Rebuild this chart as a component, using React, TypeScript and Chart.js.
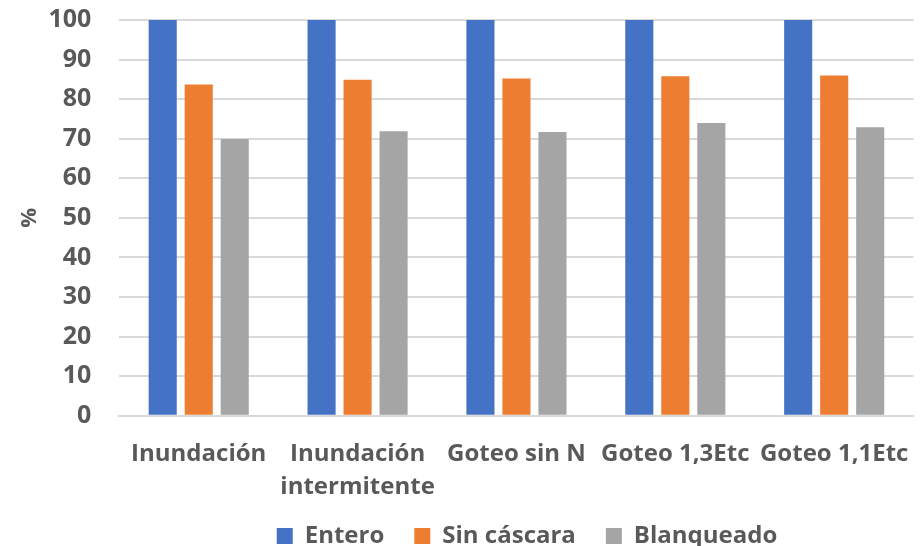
import React, { useEffect, useRef } from "react";
import { Chart, registerables } from "chart.js";

Chart.register(...registerables);

const categories: (string | string[])[] = [
  "Inundación",
  ["Inundación", "intermitente"],
  "Goteo sin N",
  "Goteo 1,3Etc",
  "Goteo 1,1Etc",
];
const entero = [100, 100, 100, 100, 100];
const sinCascara = [83.7, 84.9, 85.2, 85.8, 86.0];
const blanqueado = [69.9, 71.9, 71.7, 74.0, 72.9];
const yTicks = { min: 0, max: 100, step: 10 };

const FONT = "'Open Sans', 'DejaVu Sans', sans-serif";
const TEXT = "#595959";

const legendTune = {
  id: "legendTune",
  beforeLayout(chart: any) {
    const lg = chart.legend;
    if (lg && !lg.__patched) {
      const orig = lg.fit.bind(lg);
      lg.fit = () => {
        orig();
        lg.height = 28;
      };
      lg.__patched = true;
    }
  },
  afterLayout(chart: any) {
    const lg = chart.legend;
    if (lg) {
      lg.left += 62;
      lg.right += 62;
      lg.top = chart.height - 52;
      lg.bottom = chart.height;
      lg.height = 52;
    }
  },
};

export default function App() {
  const ref = useRef<HTMLCanvasElement | null>(null);
  useEffect(() => {
    document.body.style.margin = "0";
    if (!ref.current) return;
    const chart = new Chart(ref.current, {
      type: "bar",
      data: {
        labels: categories,
        datasets: [
          { label: "Entero", data: entero, backgroundColor: "#4472C4" },
          { label: "Sin cáscara", data: sinCascara, backgroundColor: "#ED7D31" },
          { label: "Blanqueado", data: blanqueado, backgroundColor: "#A5A5A5" },
        ],
      },
      plugins: [legendTune],
      options: {
        responsive: false,
        animation: false,
        maintainAspectRatio: false,
        datasets: { bar: { categoryPercentage: 0.68, barPercentage: 0.78 } },
        layout: { padding: { top: 0, right: 6, left: 13, bottom: 0 } },
        plugins: {
          tooltip: { enabled: false },
          legend: {
            position: "bottom",
            labels: {
              boxWidth: 16,
              boxHeight: 16,
              padding: 30,
              color: TEXT,
              font: { family: FONT, size: 24, weight: "bold" },
            },
          },
        },
        scales: {
          x: {
            grid: { display: false },
            border: { color: "#D9D9D9", width: 2 },
            ticks: {
              color: TEXT,
              maxRotation: 0,
              autoSkip: false,
              padding: 14,
              font: { family: FONT, size: 24, weight: "bold", lineHeight: 1.38 },
            },
          },
          y: {
            min: yTicks.min,
            max: yTicks.max,
            border: { display: false },
            grid: {
              color: "#D9D9D9",
              lineWidth: 2,
              drawTicks: true,
              tickLength: 23,
              tickColor: "rgba(0,0,0,0)",
            },
            ticks: {
              stepSize: yTicks.step,
              color: TEXT,
              padding: 5,
              font: { family: FONT, size: 25, weight: "bold" },
            },
            title: {
              display: true,
              text: "%",
              color: TEXT,
              padding: { top: 4, bottom: 0 },
              font: { family: FONT, size: 22, weight: "bold" },
            },
          },
        },
      },
    });
    return () => chart.destroy();
  }, []);
  return (
    <div style={{ width: 923, height: 546 }}>
      <canvas ref={ref} width={923} height={546} style={{ width: 923, height: 546, display: "block" }} />
    </div>
  );
}
